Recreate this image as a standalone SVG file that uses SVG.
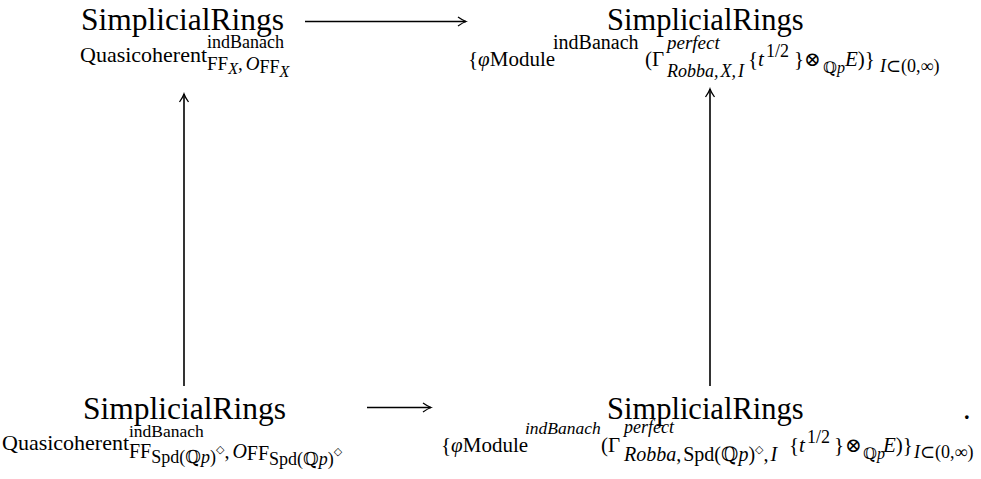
<svg xmlns="http://www.w3.org/2000/svg" width="981" height="479" viewBox="0 0 981 479">
<style>
text{font-family:"Liberation Serif","DejaVu Serif",serif;fill:#000}
.mainL{font-size:31.5px}
.mainR{font-size:30.5px}
.base{font-size:22px}
.baseR{font-size:21px}
.sc{font-size:19px}
.sc18{font-size:18px}
.ss{font-size:16px}
.it{font-style:italic}
.op{font-family:"DejaVu Serif",serif;font-size:20px}
.dia{font-family:"DejaVu Sans",sans-serif;font-size:11px}
.conn{stroke:#000;stroke-width:1.6;fill:none;marker-end:url(#ah)}
</style>
<defs>
<marker id="ah" viewBox="-10 -6 12 12" refX="0" refY="0" markerWidth="12" markerHeight="12" orient="auto" markerUnits="userSpaceOnUse">
<path d="M-8,-4.5 Q-3,-1 0,0 Q-3,1 -8,4.5" fill="none" stroke="#000" stroke-width="1.3"/>
</marker>
</defs>
<g id="n-tl">
<text class="mainL" x="81" y="30">SimplicialRings</text>
<text class="base" x="80" y="62">Quasicoherent</text>
<text class="sc18" x="207" y="48">indBanach</text>
<text class="sc" x="207" y="70">FF<tspan class="it ss" dy="4">X</tspan><tspan dy="-4">,</tspan><tspan class="it" dx="3">O</tspan><tspan class="sc18" dy="3">FF</tspan><tspan class="it ss" dy="4">X</tspan></text>
</g>
<g id="n-tr">
<text class="mainR" x="607" y="30">SimplicialRings</text>
<text class="baseR" x="468" y="66">{<tspan class="it">φ</tspan>Module</text>
<text style="font-size:20px" x="553" y="49">indBanach</text>
<text class="baseR" x="645" y="66">(Γ</text>
<text class="sc it" x="667" y="49">perfect</text>
<text class="sc18 it" x="667" y="77">Robba,<tspan dx="2">X</tspan>,<tspan dx="2">I</tspan></text>
<text class="baseR" x="748" y="66">{<tspan class="it">t</tspan></text>
<text class="sc18" x="766" y="57">1/2</text>
<text class="baseR" x="794" y="66">}</text>
<text class="op" x="804" y="66">⊗</text>
<text class="ss" x="823" y="73">ℚ<tspan class="it">p</tspan></text>
<text class="baseR" x="845" y="66"><tspan class="it">E</tspan>)}</text>
<text class="sc18" x="880" y="72"><tspan class="it">I</tspan>⊂(0,∞)</text>
</g>
<g id="n-bl">
<text class="mainL" x="83" y="419">SimplicialRings</text>
<text class="base" x="2" y="450">Quasicoherent</text>
<text style="font-size:17.5px" x="129" y="437">indBanach</text>
<text style="font-size:20px" x="129" y="458">FF<tspan class="sc18" dy="5">Spd(ℚ<tspan class="it">p</tspan>)</tspan><tspan class="dia" dy="-10">◇</tspan><tspan dy="5">,</tspan><tspan class="it" dx="3">O</tspan><tspan dy="2">FF</tspan><tspan class="sc18" dy="5">Spd(ℚ<tspan class="it">p</tspan>)</tspan><tspan class="dia" dy="-10">◇</tspan></text>
</g>
<g id="n-br">
<text class="mainR" x="607" y="419">SimplicialRings</text>
<text class="mainR" x="963" y="419">.</text>
<text class="baseR" x="441" y="452">{<tspan class="it">φ</tspan>Module</text>
<text style="font-size:17.5px" class="it" x="525" y="434">indBanach</text>
<text class="baseR" x="601" y="452">(Γ</text>
<text class="sc18 it" x="624" y="433">perfect</text>
<text style="font-size:20px" x="624" y="461"><tspan class="it">Robba</tspan>,<tspan dx="2">Spd(ℚ</tspan><tspan class="it">p</tspan>)<tspan class="dia" dy="-8">◇</tspan><tspan dy="8">,</tspan><tspan class="it" dx="2">I</tspan></text>
<text class="baseR" x="789" y="452">{<tspan class="it">t</tspan></text>
<text class="sc18" x="807" y="443">1/2</text>
<text class="baseR" x="834" y="452">}</text>
<text class="op" x="845" y="452">⊗</text>
<text class="ss" x="863" y="459">ℚ<tspan class="it">p</tspan></text>
<text class="baseR" x="883" y="452"><tspan class="it">E</tspan>)}</text>
<text class="sc18" x="914" y="458"><tspan class="it">I</tspan>⊂(0,∞)</text>
</g>
<g id="connectors">
<path class="conn" d="M305,21.5 H466"/>
<path class="conn" d="M367,407.5 H431"/>
<path class="conn" d="M184,386 V94"/>
<path class="conn" d="M710,386 V89"/>
</g>
</svg>
